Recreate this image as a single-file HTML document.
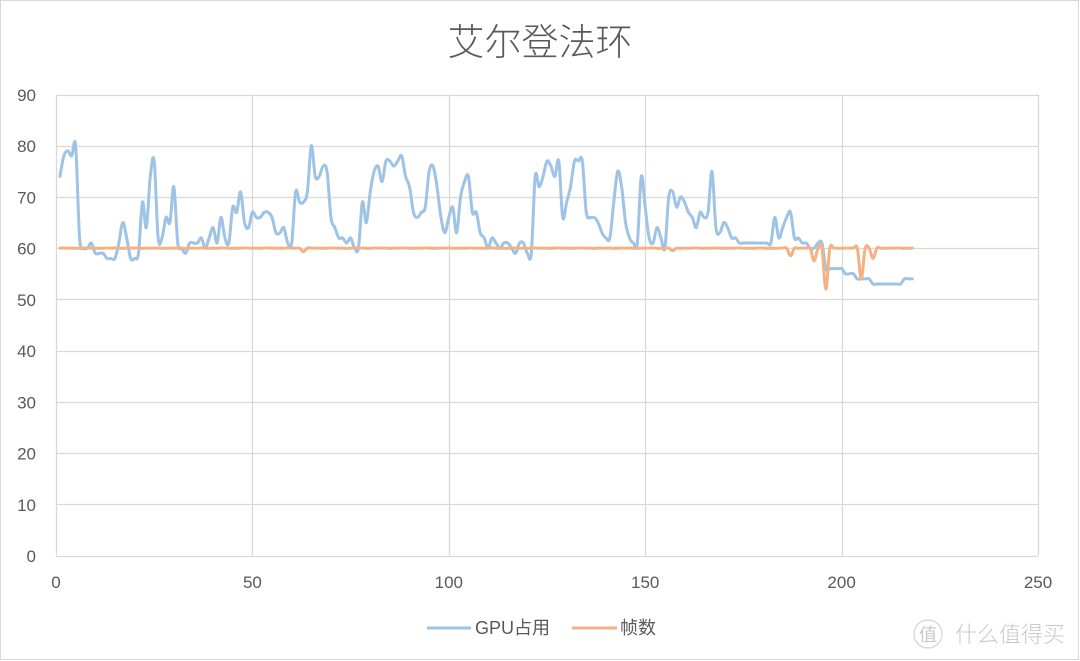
<!DOCTYPE html>
<html>
<head>
<meta charset="utf-8">
<style>
  html,body{margin:0;padding:0;background:#fff;}
  body{width:1080px;height:661px;overflow:hidden;}
  svg{display:block;}
  .t{font-family:"Liberation Sans","Noto Sans CJK SC",sans-serif;fill:#595959;}
</style>
</head>
<body>
<svg id="c" width="1080" height="661" viewBox="0 0 1080 661" xmlns="http://www.w3.org/2000/svg">
  <rect x="0.5" y="0.5" width="1078" height="659" fill="#fff" stroke="#d9d9d9" stroke-width="1"/>
  <text class="t" x="540" y="55" text-anchor="middle" font-size="37" style="font-family:'Noto Sans CJK SC','WenQuanYi Zen Hei',sans-serif;font-weight:300">艾尔登法环</text>
  <g id="grid" stroke="#d9d9d9" stroke-width="1.3" fill="none"></g>
  <g id="labels"></g>
  <path id="gpu" fill="none" stroke="#9DC3E6" stroke-width="3" stroke-linejoin="round" stroke-linecap="round"/>
  <path id="fps" fill="none" stroke="#F4B183" stroke-width="3" stroke-linejoin="round" stroke-linecap="round"/>
  <!-- legend -->
  <line x1="427" y1="628" x2="471" y2="628" stroke="#9DC3E6" stroke-width="3"/>
  <text class="t" x="475" y="634" font-size="18">GPU占用</text>
  <line x1="572" y1="628" x2="617" y2="628" stroke="#F4B183" stroke-width="3"/>
  <text class="t" x="620" y="634" font-size="18">帧数</text>
  <!-- watermark -->
  <circle cx="928" cy="634" r="14" fill="none" stroke="#d4d4d4" stroke-width="1.2"/>
  <text x="928" y="641" text-anchor="middle" font-size="18" fill="#c8c8c8" style="font-family:'Noto Sans CJK SC',sans-serif">值</text>
  <text x="955" y="642" font-size="22" fill="#c8c8c8" style="font-family:'Noto Sans CJK SC',sans-serif;font-weight:300">什么值得买</text>
</svg>
<script>
(function(){
  var NS="http://www.w3.org/2000/svg";
  function X(i){return 56+i*(982/250);}
  function Y(v){return 555.5-v*(461/90);}
  var grid=document.getElementById('grid');
  var labels=document.getElementById('labels');
  function el(tag,attrs,parent,txt){var e=document.createElementNS(NS,tag);for(var k in attrs)e.setAttribute(k,attrs[k]);if(txt!==undefined)e.textContent=txt;parent.appendChild(e);return e;}
  for(var v=0;v<=90;v+=10){
    var y=Math.round(Y(v))+0.5;
    el('line',{x1:56,x2:1038.5,y1:y,y2:y},grid);
    el('text',{x:36,y:Y(v)+6.5,'text-anchor':'end','font-size':17,'class':'t'},labels,String(v));
  }
  for(var x=0;x<=250;x+=50){
    var xx=Math.round(X(x))+0.5;
    el('line',{x1:xx,x2:xx,y1:Y(90),y2:Y(0)},grid);
    el('text',{x:X(x),y:588,'text-anchor':'middle','font-size':17,'class':'t'},labels,String(x));
  }
  var gpu=[74,78,79,78,80,62,60,60,61,59,59,59,58,58,58,61,65,62,58,58,
    59,69,64,74,77,62,62,66,65,72,61,60,59,61,61,61,62,60,62,64,
    61,66,62,61,68,67,71,65,64,67,66,66,67,67,66,63,63,64,61,61,
    71,69,69,71,80,74,74,76,75,66,64,62,62,61,62,60,60,69,65,71,
    75,76,73,77,77,76,77,78,74,72,67,66,67,68,75,76,72,66,63,66,
    68,63,70,73,74,67,67,63,62,60,62,61,60,61,61,60,59,61,61,59,
    59,74,72,74,77,76,74,77,66,69,72,77,77,77,67,66,66,65,63,62,
    62,69,75,72,65,62,61,61,74,68,62,61,64,62,60,70,71,68,70,69,
    67,66,64,67,66,67,75,64,63,65,64,62,62,61,61,61,61,61,61,61,
    61,61,66,62,64,66,67,62,62,61,61,60,60,61,61,56,56,56,56,56,
    55,55,55,54,54,54,54,53,53,53,53,53,53,53,53,54,54,54];
  var n=gpu.length;
  var fps=[];
  for(var i=0;i<n;i++){fps.push(60+0.05*Math.sin(i*1.7)*Math.cos(i*0.6));}
  var dips={63:59.3,157:59.5,187:58.5,193:57.5,196:52,205:54,208:58};
  for(var k in dips){fps[k-1]=dips[k];}
  function path(arr){
    var p=[];for(var i=0;i<arr.length;i++)p.push([X(i+1),Y(arr[i])]);
    var d="M"+p[0][0].toFixed(2)+","+p[0][1].toFixed(2);
    for(var i=0;i<p.length-1;i++){
      var p0=p[i-1]||p[i],p1=p[i],p2=p[i+1],p3=p[i+2]||p[i+1];
      var c1x=p1[0]+(p2[0]-p0[0])/6,c1y=p1[1]+(p2[1]-p0[1])/6;
      var c2x=p2[0]-(p3[0]-p1[0])/6,c2y=p2[1]-(p3[1]-p1[1])/6;
      d+=" C"+c1x.toFixed(2)+","+c1y.toFixed(2)+" "+c2x.toFixed(2)+","+c2y.toFixed(2)+" "+p2[0].toFixed(2)+","+p2[1].toFixed(2);
    }
    return d;
  }
  document.getElementById('gpu').setAttribute('d',path(gpu));
  document.getElementById('fps').setAttribute('d',path(fps));
})();
</script>
</body>
</html>
